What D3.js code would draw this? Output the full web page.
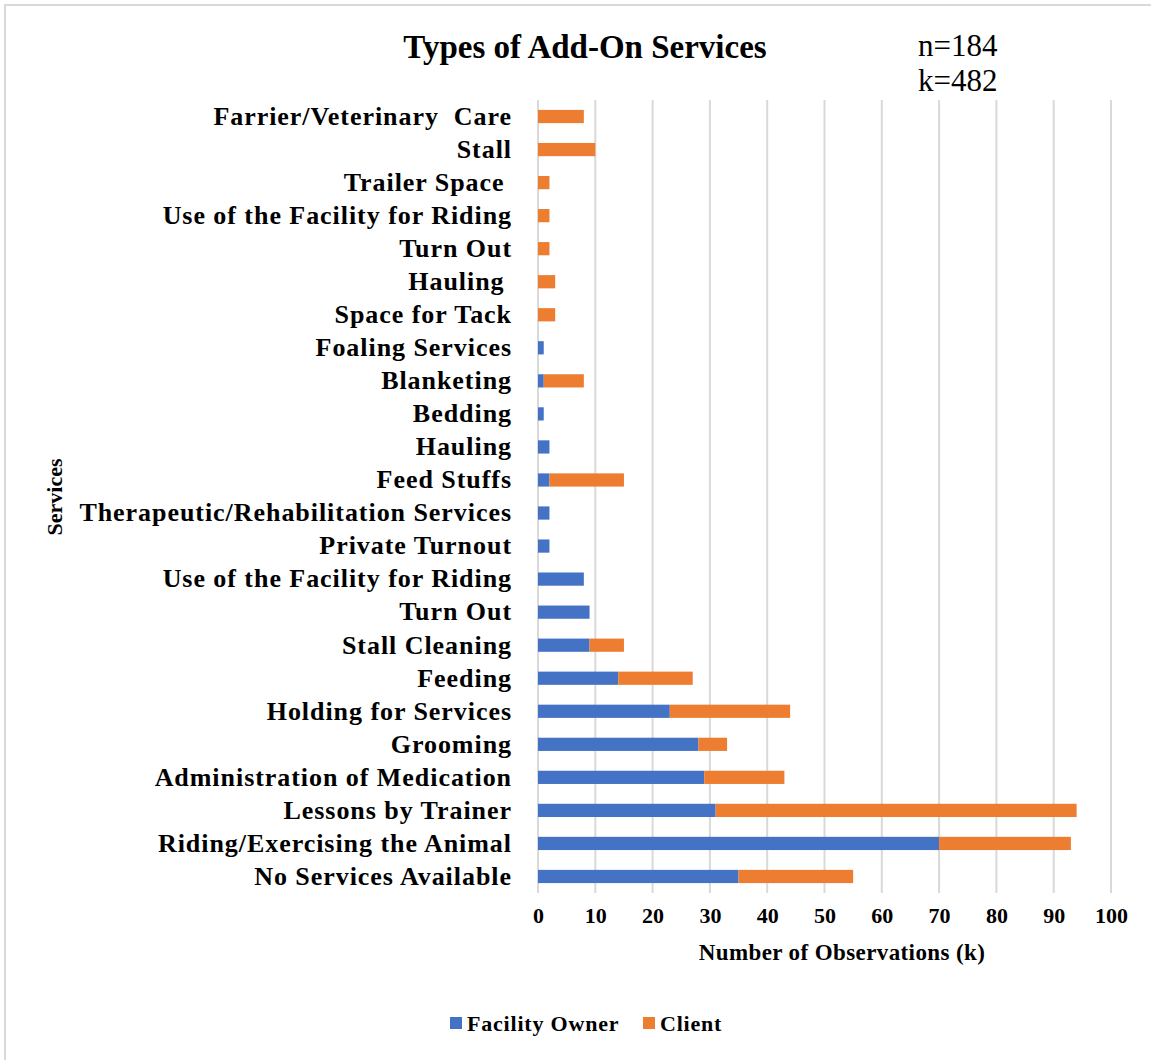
<!DOCTYPE html>
<html>
<head>
<meta charset="utf-8">
<script src="https://cdn.jsdelivr.net/npm/d3@7"></script>
<style>
  body { margin: 0; background: #fff; }
  svg text { font-family: "Liberation Serif", "Times New Roman", serif; }
</style>
</head>
<body>
<svg id="chart" width="1151" height="1060"></svg>
<script>
// Categories, top to bottom as drawn
const categories = [
  "Farrier/Veterinary  Care",
  "Stall",
  "Trailer Space ",
  "Use of the Facility for Riding",
  "Turn Out",
  "Hauling ",
  "Space for Tack",
  "Foaling Services",
  "Blanketing",
  "Bedding",
  "Hauling",
  "Feed Stuffs",
  "Therapeutic/Rehabilitation Services",
  "Private Turnout",
  "Use of the Facility for Riding\u200B",
  "Turn Out\u200B",
  "Stall Cleaning",
  "Feeding",
  "Holding for Services",
  "Grooming",
  "Administration of Medication",
  "Lessons by Trainer",
  "Riding/Exercising the Animal",
  "No Services Available"
];
const facilityOwner = [0,0,0,0,0,0,0,1,1,1,2,2,2,2,8,9,9,14,23,28,29,31,70,35];
const client        = [8,10,2,2,2,3,3,0,7,0,0,13,0,0,0,0,6,13,21,5,14,63,23,20];
const seriesNames = ["Facility Owner", "Client"];
const seriesColors = ["#4472C4", "#ED7D31"];
const xTicks = [0,10,20,30,40,50,60,70,80,90,100];

(function () {
const svg = d3.select("#chart");
const W = 1151, H = 1060;

// outer border
svg.append("rect").attr("x", 5).attr("y", 5).attr("width", W + 10).attr("height", H + 10)
  .attr("fill", "#fff").attr("stroke", "#d9d9d9").attr("stroke-width", 2);

const pLeft = 538, pRight = 1111, pTop = 100, pBottom = 893;
const x = d3.scaleLinear().domain([0, 100]).range([pLeft, pRight]);
const y = d3.scaleBand().domain(categories).range([pTop, pBottom]).paddingInner(0.6).paddingOuter(0.3);

// gridlines
svg.append("g").selectAll("line").data(xTicks).join("line")
  .attr("x1", d => x(d)).attr("x2", d => x(d))
  .attr("y1", pTop).attr("y2", pBottom)
  .attr("stroke", "#d9d9d9").attr("stroke-width", 2);

// stacked data
const rows = categories.map((c, i) => ({cat: c, owner: facilityOwner[i], client: client[i]}));
const stack = d3.stack().keys(["owner", "client"])(rows);

svg.append("g").selectAll("g").data(stack).join("g")
  .attr("fill", (d, i) => seriesColors[i])
  .selectAll("rect").data(d => d).join("rect")
  .attr("x", d => x(d[0]))
  .attr("width", d => Math.max(0, x(d[1]) - x(d[0])))
  .attr("y", d => y(d.data.cat))
  .attr("height", y.bandwidth());

// category labels
const yAxis = d3.axisLeft(y).tickSize(0).tickPadding(0).tickFormat(d => d.replace("\u200B", ""));
const yg = svg.append("g").attr("transform", `translate(${512},0)`).call(yAxis);
yg.select(".domain").remove();
yg.selectAll("text")
  .attr("font-family", "Liberation Serif, serif")
  .attr("font-size", 26).attr("font-weight", "bold").attr("fill", "#000")
  .style("white-space", "pre").attr("letter-spacing", "0.95px");

// x axis tick labels
const xAxis = d3.axisBottom(x).tickValues(xTicks).tickSize(0).tickPadding(0);
const xg = svg.append("g").attr("transform", `translate(0,${pBottom + 12})`).call(xAxis);
xg.select(".domain").remove();
xg.selectAll("text")
  .attr("font-family", "Liberation Serif, serif")
  .attr("font-size", 22).attr("font-weight", "bold").attr("fill", "#000")
  .attr("dy", "0.8em");

// axis titles
svg.append("text").attr("x", 842).attr("y", 960).attr("text-anchor", "middle")
  .attr("font-size", 23).attr("font-weight", "bold").attr("letter-spacing", "0.4px")
  .text("Number of Observations (k)");
svg.append("text").attr("transform", "translate(62,497) rotate(-90)").attr("text-anchor", "middle")
  .attr("font-size", 22).attr("font-weight", "bold").text("Services");

// title
svg.append("text").attr("x", 585).attr("y", 58).attr("text-anchor", "middle")
  .attr("font-size", 33).attr("font-weight", "bold").text("Types of Add-On Services");
svg.append("text").attr("x", 918).attr("y", 56).attr("font-size", 31).text("n=184");
svg.append("text").attr("x", 918).attr("y", 91).attr("font-size", 31).text("k=482");

// legend
const legend = svg.append("g");
const legendX = [450, 643];
seriesNames.forEach((n, i) => {
  legend.append("rect").attr("x", legendX[i]).attr("y", 1017).attr("width", 12).attr("height", 12)
    .attr("fill", seriesColors[i]);
  legend.append("text").attr("x", legendX[i] + 17).attr("y", 1031)
    .attr("font-size", 22).attr("font-weight", "bold").attr("letter-spacing", "0.8px").text(n);
});
})();
</script>
</body>
</html>
